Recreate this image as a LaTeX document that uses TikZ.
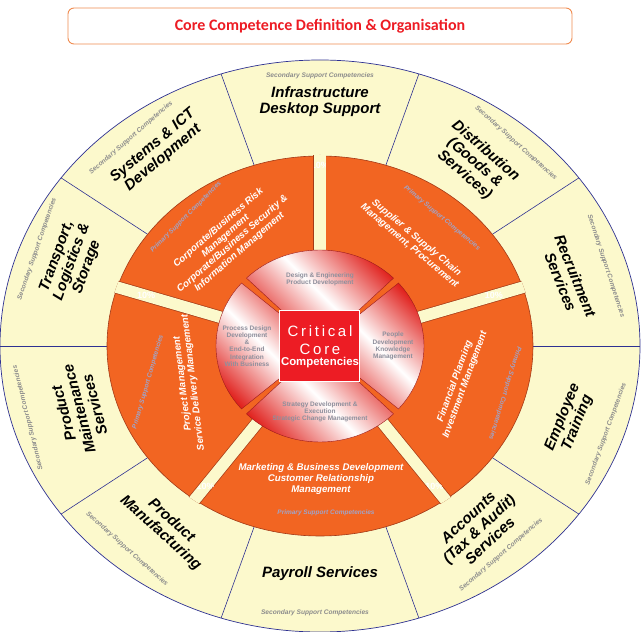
\documentclass[tikz,border=0pt]{standalone}
\usepackage{fontspec}
\setmainfont{Liberation Sans}
\newfontfamily\titlefont{Carlito}
\newfontfamily\spacedfont[LetterSpace=18]{Liberation Sans}

\definecolor{cream}{HTML}{FCF9CC}
\definecolor{ringorange}{HTML}{F26522}
\definecolor{ringedge}{HTML}{A33A17}
\definecolor{navyline}{HTML}{2E3192}
\definecolor{secgray}{HTML}{8C8C8C}
\definecolor{primgray}{HTML}{A0A4C8}
\definecolor{coregray}{HTML}{8E8F9C}
\definecolor{corered}{HTML}{ED1C24}
\definecolor{segred}{HTML}{E0201C}
\definecolor{segline}{HTML}{9B1B1B}
\definecolor{boxorange}{HTML}{F08C50}

\tikzset{
    titlebox/.style={draw=boxorange, line width=0.9pt, rounded corners=6pt, fill=white,
        minimum width=504pt, minimum height=36pt, text=corered,
        font=\titlefont\bfseries\fontsize{16}{19}\selectfont},
    outerlbl/.style={align=center, inner sep=0pt, text=black,
        font=\bfseries\itshape\fontsize{15}{16}\selectfont},
    seclbl/.style={inner sep=0pt, text=secgray,
        font=\bfseries\itshape\fontsize{6.6}{7}\selectfont},
    ringlbl/.style={align=center, inner sep=0pt, text=white,
        font=\bfseries\itshape\fontsize{9.7}{10.7}\selectfont},
    primlbl/.style={inner sep=0pt, text=primgray,
        font=\bfseries\itshape\fontsize{6.5}{7}\selectfont},
    corelbl/.style={align=center, inner sep=0pt, text=coregray,
        font=\bfseries\fontsize{6.5}{7.3}\selectfont},
    pct/.style={inner sep=0pt, text=white, font=\bfseries\fontsize{9}{9}\selectfont},
    inseg/.style={draw=segline, line width=0.4pt, top color=segred, bottom color=segred,
        middle color=white, shading angle=-45},
    coresq/.style={fill=corered, draw=white, line width=1pt, minimum width=80pt,
        minimum height=71pt, inner sep=0pt}
}

\begin{document}
\begin{tikzpicture}[x=1pt,y=1pt]
    % PAGE
    \useasboundingbox (-320,-286) rectangle (321,346);
    \fill[white] (-320,-286) rectangle (321,346);

    % TITLE
    \node[titlebox] (title) at (0,320) {Core Competence Definition \& Organisation};

    % OUTER RING
    \fill[cream] (0,0) ellipse [x radius=320pt, y radius=286pt];
    \draw[navyline, line width=0.7pt] (0,0) ellipse [x radius=320pt, y radius=286pt];
    \foreach \a in {0,36,...,324} {
    \draw[navyline, line width=0.6pt] (\a:213pt and 190pt) -- (\a:320pt and 286pt);
    }

    \node[outerlbl] (infra) at (0,244) {Infrastructure\\Desktop Support};
    \node[outerlbl, rotate=-41] (distr) at (155,183) {Distribution\\(Goods \&\\Services)};
    \node[outerlbl, rotate=-68] (recruit) at (248,67) {Recruitment\\Services};
    \node[outerlbl, rotate=68] (training) at (250,-74) {Employee\\Training};
    \node[outerlbl, rotate=43] (accounts) at (159,-183) {Accounts\\(Tax \& Audit)\\Services};
    \node[outerlbl] (payroll) at (0,-228) {Payroll Services};
    \node[outerlbl, rotate=-42] (manuf) at (-154,-181) {Product\\Manufacturing};
    \node[outerlbl, rotate=105] (maint) at (-241,-63) {Product\\Maintenance\\Services};
    \node[outerlbl, rotate=70] (transport) at (-248,84) {Transport,\\Logistics \&\\Storage};
    \node[outerlbl, rotate=40] (systems) at (-162,194) {Systems \& ICT\\Development};

    \foreach \x/\y/\r [count=\i] in {0/270/0, 196/203/-42, 286/80/-72, 286/-88/70,
        181/-209/41, -5/-267/0, -193/-203/-42, -292/-72/104, -283/97/71, -189/208/41} {
    \node[seclbl, rotate=\r] (sec\i) at (\x,\y) {Secondary Support Competencies};
    }

    % PRIMARY RING
    \fill[ringorange] (0,0) ellipse [x radius=213pt, y radius=190pt];
    \draw[ringedge, line width=0.6pt] (0,0) ellipse [x radius=213pt, y radius=190pt];
    \begin{scope}
    \clip (0,0) ellipse [x radius=214pt, y radius=191pt];
    \foreach \a in {90,18,-54,-126,162} {
    \draw[ringedge, line width=13pt] (\a:80pt and 71pt) -- (\a:230pt and 205pt);
    \draw[cream, line width=11.6pt] (\a:80pt and 71pt) -- (\a:230pt and 205pt);
    }
    \end{scope}

    % HIDDEN PERCENTAGES
    \foreach \p [count=\i] in {90,16.2,-50.8,-129.2,163.8} {
    \begin{scope}
    \clip[rotate=\p] (150,-5.8) rectangle (200,5.8);
    \node[pct] (pct\i) at (\p:181) {10\%};
    \end{scope}
    }

    \node[ringlbl, rotate=41] (risk) at (-91,106)
        {Corporate/Business Risk\\Management\\Corporate/Business Security \&\\Information Management};
    \node[ringlbl, rotate=-40] (supply) at (93,104) {Supplier \& Supply Chain\\Management, Procurement};
    \node[ringlbl, rotate=70] (finance) at (140,-37) {Financial Planning\\Investment Management};
    \node[ringlbl] (marketing) at (1,-133)
        {Marketing \& Business Development\\Customer Relationship\\Management};
    \node[ringlbl, rotate=97] (project) at (-132,-37) {Project Management\\Service Delivery Management};

    \foreach \x/\y/\r [count=\i] in {-134/129/45, 122/128/-40, 185/-47/-107, 6/-167/0, -172/-36/74} {
    \node[primlbl, rotate=\r] (prim\i) at (\x,\y) {Primary Support Competencies};
    }

    % CRITICAL CORE DISC
    \foreach \s/\e in {-41/41, 45/135, 139/221, 225/315} {
    \path[inseg] (0,0) -- (\s:104pt and 96pt)
        arc[start angle=\s, end angle=\e, x radius=104pt, y radius=96pt] -- cycle;
    }

    \node[corelbl] (design) at (0,67) {Design \& Engineering\\Product Development};
    \node[corelbl] (process) at (-73,0) {Process Design\\Development\\\&\\End-to-End\\Integration\\With Business};
    \node[corelbl] (people) at (73,0) {People\\Development\\Knowledge\\Management};
    \node[corelbl] (strategy) at (0,-66) {Strategy Development \&\\Execution\\Strategic Change Management};

    \node[coresq] (core) at (0,0) {};
    \node[inner sep=0pt, text=white, font=\spacedfont\fontsize{15}{15}\selectfont] (critical) at (0,15) {Critical};
    \node[inner sep=0pt, text=white, font=\spacedfont\fontsize{15}{15}\selectfont] (corew) at (0,-3) {Core};
    \node[inner sep=0pt, text=white, font=\bfseries\fontsize{11.4}{12}\selectfont] (compet) at (0,-17) {Competencies};

\end{tikzpicture}
\end{document}
